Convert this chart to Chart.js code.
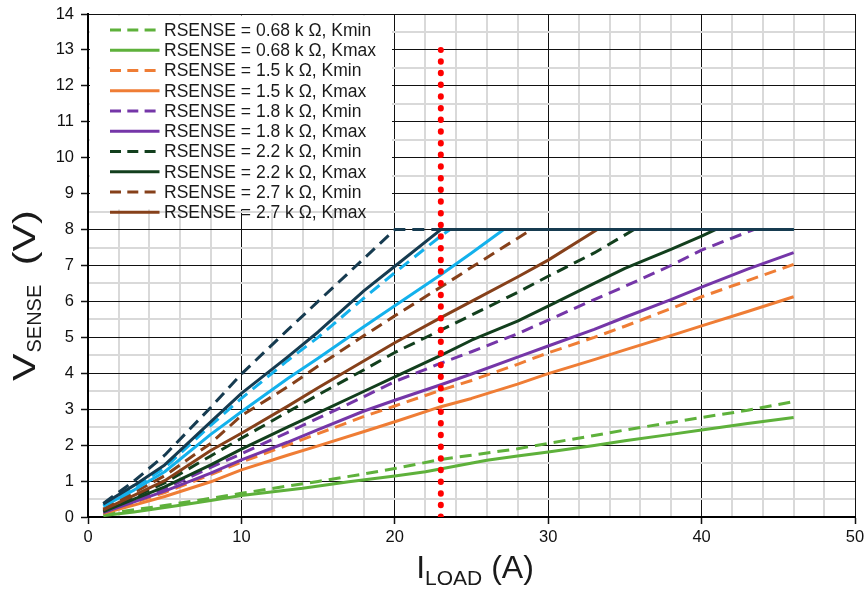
<!DOCTYPE html>
<html>
<head>
<meta charset="utf-8">
<script src="https://cdn.jsdelivr.net/npm/chart.js@4.4.1/dist/chart.umd.min.js"></script>
<style>
html,body{margin:0;padding:0;background:#fff;}
#wrap{width:868px;height:590px;position:relative;}
canvas{display:block;}
</style>
</head>
<body>
<div id="wrap"><canvas id="c" width="868" height="590"></canvas></div>
<script>
// ---- Data ----
const seriesNames = [
  'RSENSE = 0.68 k \u03A9, Kmin',
  'RSENSE = 0.68 k \u03A9, Kmax',
  'RSENSE = 1.5 k \u03A9, Kmin',
  'RSENSE = 1.5 k \u03A9, Kmax',
  'RSENSE = 1.8 k \u03A9, Kmin',
  'RSENSE = 1.8 k \u03A9, Kmax',
  'RSENSE = 2.2 k \u03A9, Kmin',
  'RSENSE = 2.2 k \u03A9, Kmax',
  'RSENSE = 2.7 k \u03A9, Kmin',
  'RSENSE = 2.7 k \u03A9, Kmax',
  'Light blue, Kmin',
  'Light blue, Kmax',
  'Navy, Kmin',
  'Navy, Kmax'
];
const legendCount = 10;

const x068Kmin = [1,3,5,8,10,13,15,18,20,23,25,28,30,33,35,38,40,43,46];
const y068Kmin = [0.08,0.2,0.32,0.52,0.66,0.86,0.99,1.2,1.35,1.6,1.72,1.9,2.05,2.27,2.42,2.63,2.77,2.97,3.21];
const x068Kmax = [1,3,6,8,10,14,17,20,22,24,26,28,30,33,35,38,40,43,46];
const y068Kmax = [0.04,0.14,0.33,0.46,0.6,0.8,0.98,1.14,1.26,1.42,1.58,1.7,1.81,1.99,2.12,2.3,2.42,2.6,2.77];

const x15Kmin = [1,3,5,8,10,13,15,18,20,23,25,28,30,33,35,38,40,43,46];
const y15Kmin = [0.12,0.4,0.68,1.18,1.53,2.0,2.32,2.8,3.09,3.53,3.8,4.25,4.57,5.0,5.31,5.8,6.13,6.58,7.03];
const x15Kmax = [1,3,5,8,10,13,15,18,20,23,25,28,30,33,35,38,40,43,46];
const y15Kmax = [0.1,0.33,0.57,0.98,1.31,1.72,1.98,2.38,2.65,3.07,3.3,3.7,3.99,4.38,4.65,5.05,5.32,5.72,6.13];

const x18Kmin = [1,3,5,8,10,13,15,18,20,23,25,28,30,33,35,38,40,43.4,46];
const y18Kmin = [0.14,0.46,0.79,1.38,1.76,2.35,2.75,3.35,3.77,4.28,4.6,5.1,5.48,6.05,6.42,7.0,7.43,8,8];
const x18Kmax = [1,3,5,8,10,13,15,18,20,23,25,28,30,33,35,38,40,43,46];
const y18Kmax = [0.12,0.42,0.72,1.22,1.59,2.08,2.43,2.95,3.25,3.68,3.98,4.45,4.76,5.22,5.56,6.05,6.4,6.9,7.36];

const x22Kmin = [1,3,5,8,10,13,15,18,20,23,25,28,30,33,35.6,46];
const y22Kmin = [0.18,0.56,0.95,1.7,2.19,2.92,3.4,4.1,4.58,5.2,5.62,6.25,6.7,7.35,8,8];
const x22Kmax = [1,3,5,8,10,13,15,18,20,23,25,28,30,33,35,38,40,40.9,46];
const y22Kmax = [0.15,0.5,0.84,1.45,1.89,2.5,2.9,3.5,3.9,4.5,4.92,5.45,5.87,6.5,6.92,7.45,7.82,8,8];

const x27Kmin = [1,3,5,8,10,13,15,18,20,23,25,28.9,46];
const y27Kmin = [0.22,0.68,1.15,2.05,2.82,3.62,4.2,5.05,5.6,6.4,6.95,8,8];
const x27Kmax = [1,3,5,8,10,13,15,18,20,23,25,28,30,33.2,46];
const y27Kmax = [0.2,0.6,1.01,1.85,2.33,3.08,3.6,4.35,4.85,5.55,6.0,6.68,7.15,8,8];

const xLbKmin = [1,3,5,8,10,13,15,18,20,23,23.6,46];
const yLbKmin = [0.32,0.82,1.37,2.55,3.3,4.35,5.0,6.1,6.8,7.82,8,8];
const xLbKmax = [1,3,5,8,10,13,15,18,20,23,25,27.1,46];
const yLbKmax = [0.3,0.75,1.26,2.3,2.93,3.85,4.42,5.3,5.88,6.74,7.35,8,8];

const xNvKmin = [1,3,5,8,10,13,15,18,20,46];
const yNvKmin = [0.38,1.0,1.72,3.05,3.98,5.2,6.0,7.2,8,8];
const xNvKmax = [1,3,5,8,10,13,15,18,20,23,46];
const yNvKmax = [0.36,0.88,1.45,2.65,3.44,4.45,5.15,6.3,6.98,8,8];

const markerX = [23, 23];
const markerY = [0, 13];

const xTickLabels = ['0','10','20','30','40','50'];
const yTickLabels = ['0','1','2','3','4','5','6','7','8','9','10','11','12','13','14'];

// ---- Styles ----
const seriesX = [x068Kmin,x068Kmax,x15Kmin,x15Kmax,x18Kmin,x18Kmax,x22Kmin,x22Kmax,x27Kmin,x27Kmax,xLbKmin,xLbKmax,xNvKmin,xNvKmax];
const seriesY = [y068Kmin,y068Kmax,y15Kmin,y15Kmax,y18Kmin,y18Kmax,y22Kmin,y22Kmax,y27Kmin,y27Kmax,yLbKmin,yLbKmax,yNvKmin,yNvKmax];
const seriesColors = ['#5eb13b','#5eb13b','#ef7d35','#ef7d35','#7536a8','#7536a8','#123f1d','#123f1d','#86401a','#86401a','#13b1ec','#13b1ec','#163b50','#163b50'];
const seriesDashed = [true,false,true,false,true,false,true,false,true,false,true,false,true,false];

const FONT = "'Liberation Sans', Arial, sans-serif";

const datasets = [];
datasets.push({
  label: 'I = 23 A',
  data: markerX.map((x, i) => ({x: x, y: markerY[i]})),
  borderColor: '#ff0000',
  borderWidth: 6,
  borderDash: [0.5, 11.175],
  borderCapStyle: 'round',
  pointRadius: 0,
  fill: false,
  order: 0
});
seriesNames.forEach((name, i) => {
  datasets.push({
    label: name,
    data: seriesX[i].map((x, j) => ({x: x, y: seriesY[i][j]})),
    borderColor: seriesColors[i],
    backgroundColor: seriesColors[i],
    borderWidth: 3,
    borderDash: seriesDashed[i] ? [12, 7] : [],
    borderCapStyle: 'butt',
    borderJoinStyle: 'round',
    pointRadius: 0,
    tension: 0,
    fill: false,
    order: 30 - i
  });
});

const boxLegend = {
  id: 'boxLegend',
  beforeDatasetsDraw(chart) {
    const ctx = chart.ctx;
    ctx.save();
    ctx.fillStyle = '#ffffff';
    ctx.fillRect(90, 15.5, 302, 194);
    ctx.font = '17.5px ' + FONT;
    ctx.textBaseline = 'middle';
    ctx.textAlign = 'left';
    for (let i = 0; i < legendCount; i++) {
      const ds = chart.data.datasets[i + 1];
      const y = 30 + 20.25 * i;
      ctx.beginPath();
      ctx.strokeStyle = ds.borderColor;
      ctx.lineWidth = 3.2;
      ctx.lineCap = 'butt';
      ctx.setLineDash(seriesDashed[i] ? [11, 6.3] : []);
      ctx.moveTo(110, y);
      ctx.lineTo(159.5, y);
      ctx.stroke();
      ctx.setLineDash([]);
      ctx.fillStyle = '#1a1a1a';
      ctx.fillText(ds.label, 164, y + 1);
    }
    ctx.restore();
  }
};

const axisTitles = {
  id: 'axisTitles',
  afterDraw(chart) {
    const ctx = chart.ctx;
    ctx.save();
    ctx.fillStyle = '#1a1a1a';
    ctx.textBaseline = 'alphabetic';
    ctx.textAlign = 'left';
    // X title: I_LOAD (A)
    const bigX = '32px ' + FONT, subX = '21px ' + FONT;
    ctx.font = bigX; const wI = ctx.measureText('I').width; const wA = ctx.measureText(' (A)').width;
    ctx.font = subX; const wL = ctx.measureText('LOAD').width;
    let x0 = 475 - (wI + wL + wA) / 2;
    ctx.font = bigX; ctx.fillText('I', x0, 578);
    ctx.font = subX; ctx.fillText('LOAD', x0 + wI, 585);
    ctx.font = bigX; ctx.fillText(' (A)', x0 + wI + wL, 578);
    // Y title: V_SENSE (V), rotated
    const stretch = 1.33;
    ctx.translate(35, 381);
    ctx.rotate(-Math.PI / 2);
    const bigY = '31px ' + FONT, subY = '20px ' + FONT;
    ctx.font = bigY; const wV = ctx.measureText('V').width;
    ctx.font = subY; const wS = ctx.measureText('SENSE').width;
    ctx.save(); ctx.scale(stretch, 1); ctx.font = bigY; ctx.fillText('V', 0, 0); ctx.restore();
    let p = wV * stretch + 1;
    ctx.font = subY; ctx.fillText('SENSE', p, 6);
    p += wS + 8;
    ctx.save(); ctx.translate(p, 0); ctx.scale(stretch, 1); ctx.font = bigY; ctx.fillText(' (V)', 0, 0); ctx.restore();
    ctx.restore();
  }
};

const isMajorX = v => Math.abs(v % 10) < 1e-9;
const isMajorY = v => Math.abs(v % 1) < 1e-9;

new Chart(document.getElementById('c'), {
  type: 'line',
  data: { datasets: datasets },
  options: {
    responsive: false,
    animation: false,
    devicePixelRatio: 1,
    layout: { padding: { left: 0, right: 13, top: 14, bottom: 0 } },
    plugins: { legend: { display: false }, tooltip: { enabled: false } },
    scales: {
      x: {
        type: 'linear', min: 0, max: 50,
        ticks: {
          stepSize: 2, autoSkip: false, maxRotation: 0, minRotation: 0, padding: 4,
          color: '#111', font: { family: FONT, size: 16.5 },
          callback: (v) => { const i = xTickLabels.indexOf(String(v)); return i >= 0 ? xTickLabels[i] : ''; }
        },
        grid: {
          color: c => (c.tick && isMajorX(c.tick.value)) ? '#111' : '#d9d9d9',
          lineWidth: c => (c.tick && isMajorX(c.tick.value)) ? 1 : 2,
          drawTicks: true, tickLength: 7,
          tickColor: c => (c.tick && isMajorX(c.tick.value)) ? '#111' : 'rgba(0,0,0,0)',
          tickWidth: 1.5
        },
        border: { display: true, color: '#000', width: 2 },
        afterFit(s) { s.height = 73; s.paddingLeft = 0; s.paddingRight = 0; }
      },
      y: {
        type: 'linear', min: 0, max: 14,
        ticks: {
          stepSize: 0.5, autoSkip: false, padding: 7,
          color: '#111', font: { family: FONT, size: 16.5 },
          callback: (v) => { const i = yTickLabels.indexOf(String(v)); return i >= 0 ? yTickLabels[i] : ''; }
        },
        grid: {
          color: c => (c.tick && isMajorY(c.tick.value)) ? '#111' : '#d9d9d9',
          lineWidth: c => (c.tick && isMajorY(c.tick.value)) ? 1 : 2,
          drawTicks: true, tickLength: 7,
          tickColor: c => (c.tick && isMajorY(c.tick.value)) ? '#111' : 'rgba(0,0,0,0)',
          tickWidth: 1.5
        },
        border: { display: true, color: '#000', width: 2 },
        afterFit(s) { s.width = 88; s.paddingTop = 0; s.paddingBottom = 0; }
      }
    }
  },
  plugins: [boxLegend, axisTitles]
});
</script>
</body>
</html>
